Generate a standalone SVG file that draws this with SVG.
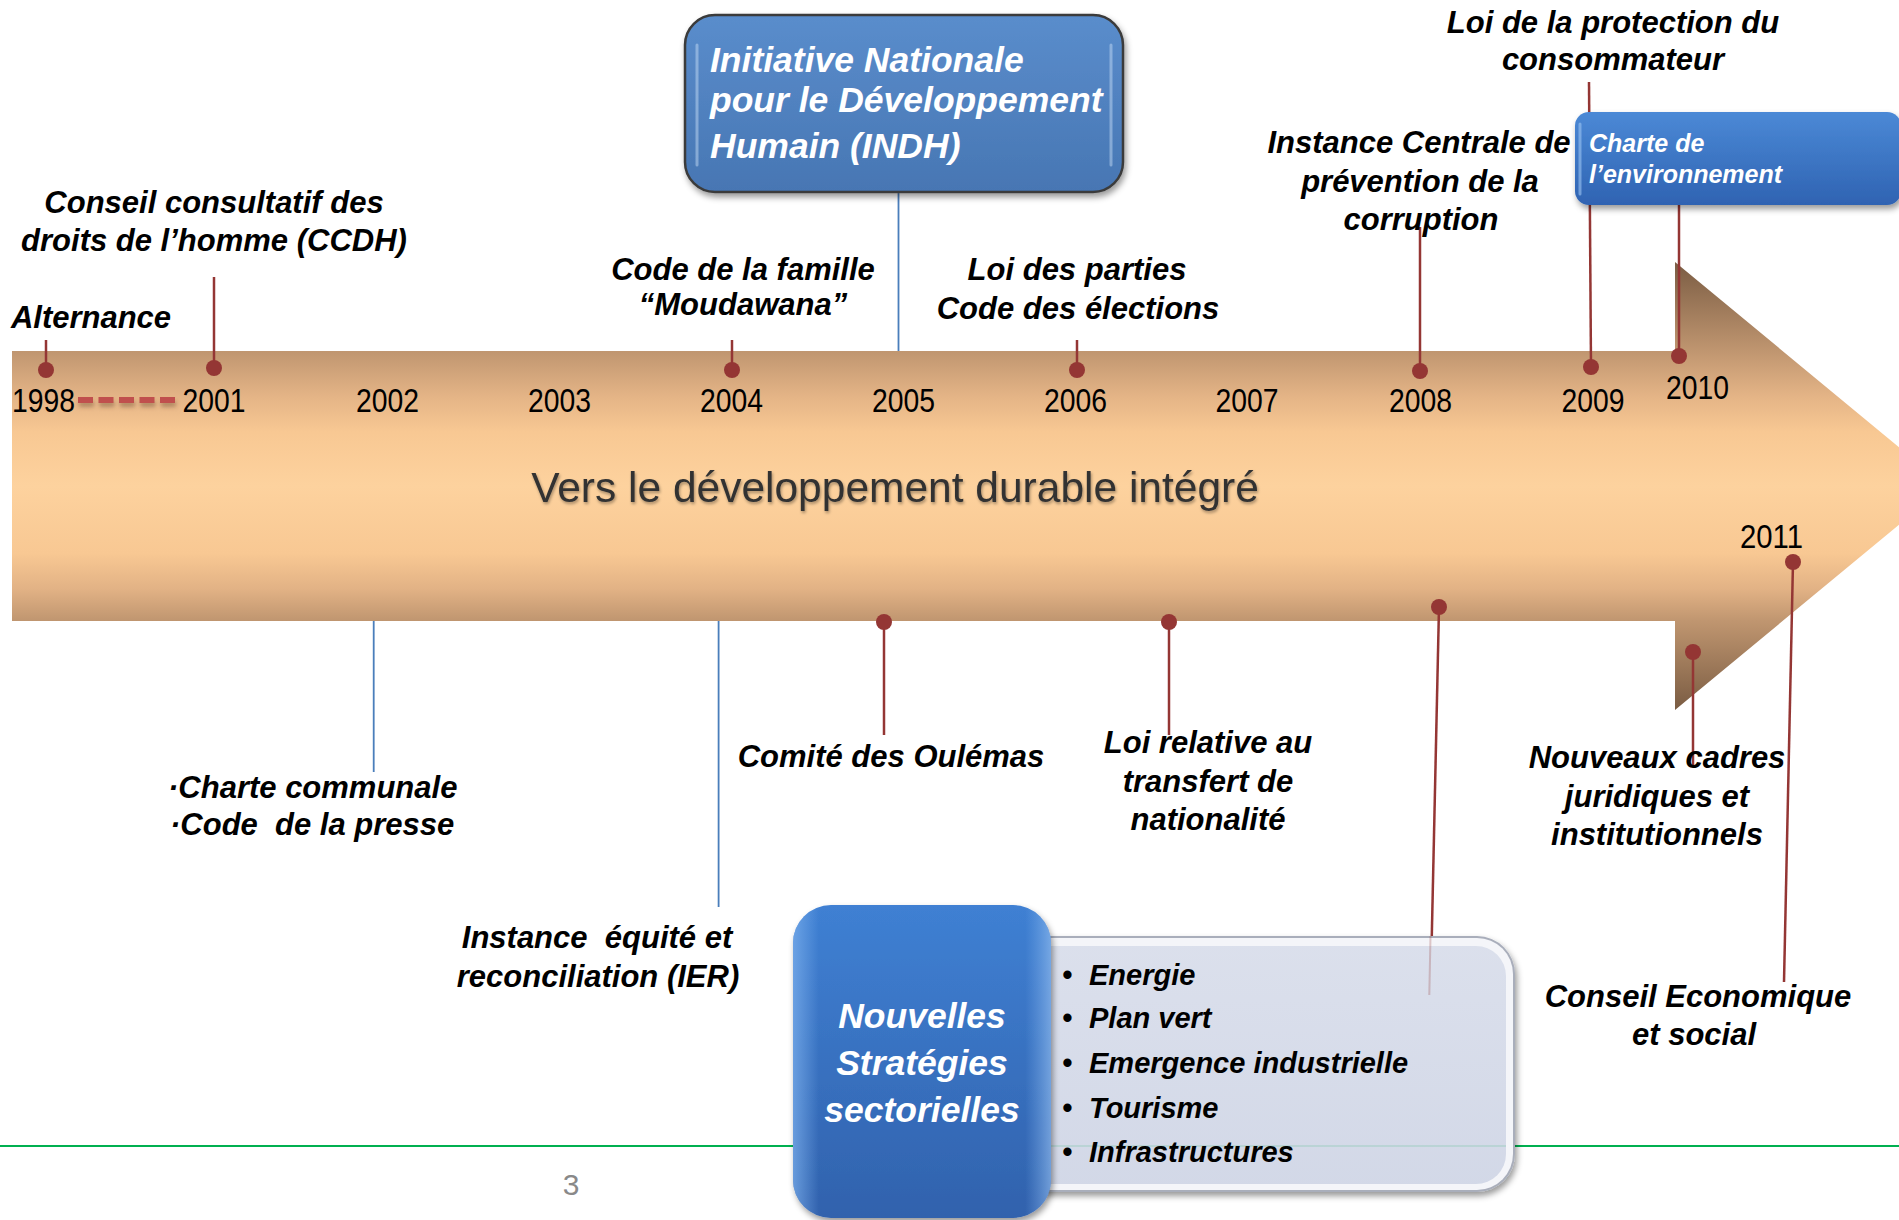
<svg xmlns="http://www.w3.org/2000/svg" width="1899" height="1220" viewBox="0 0 1899 1220">
<defs>
<style>
.lbl{font-family:"Liberation Sans",Arial,sans-serif;font-style:italic;font-weight:bold;font-size:31px;fill:#000;text-anchor:middle}
.st{text-anchor:start}
.yr{font-family:"Liberation Sans",Arial,sans-serif;font-size:33px;fill:#000;text-anchor:middle}
.wt{font-family:"Liberation Sans",Arial,sans-serif;font-style:italic;font-weight:bold;fill:#fff}
.bl{font-family:"Liberation Sans",Arial,sans-serif;font-style:italic;font-weight:bold;font-size:29px;fill:#000}
.pin{stroke:#943634;stroke-width:2.5;fill:none}
.dot{fill:#943634}
.bline{stroke:#4a7ebb;stroke-width:1.8;fill:none}
</style>
<linearGradient id="arrowGrad" gradientUnits="userSpaceOnUse" x1="0" y1="262" x2="0" y2="710">
<stop offset="0" stop-color="#7a5c43"/>
<stop offset="0.2" stop-color="#c09670"/>
<stop offset="0.3" stop-color="#e4b486"/>
<stop offset="0.38" stop-color="#f8c893"/>
<stop offset="0.5" stop-color="#fdd29e"/>
<stop offset="0.65" stop-color="#f8c893"/>
<stop offset="0.73" stop-color="#e2b285"/>
<stop offset="0.8" stop-color="#c09670"/>
<stop offset="1" stop-color="#7a5c43"/>
</linearGradient>
<linearGradient id="indhGrad" x1="0" y1="0" x2="0" y2="1">
<stop offset="0" stop-color="#5a8dcc"/>
<stop offset="1" stop-color="#4776b3"/>
</linearGradient>
<linearGradient id="charteGrad" x1="0" y1="0" x2="0" y2="1">
<stop offset="0" stop-color="#4b89d6"/>
<stop offset="1" stop-color="#2f63b2"/>
</linearGradient>
<linearGradient id="nsGrad" x1="0" y1="0" x2="0" y2="1">
<stop offset="0" stop-color="#3f80d3"/>
<stop offset="1" stop-color="#3162ad"/>
</linearGradient>
<linearGradient id="nsEdge" x1="0" y1="0" x2="1" y2="0">
<stop offset="0" stop-color="#7fb2ee" stop-opacity="0.7"/>
<stop offset="0.1" stop-color="#7fb2ee" stop-opacity="0"/>
<stop offset="0.9" stop-color="#7fb2ee" stop-opacity="0"/>
<stop offset="1" stop-color="#9cc4f2" stop-opacity="0.6"/>
</linearGradient>
<linearGradient id="grayGrad" x1="0" y1="0" x2="0" y2="1">
<stop offset="0" stop-color="#d9deeb"/>
<stop offset="1" stop-color="#d0d6e6"/>
</linearGradient>
<filter id="sh" x="-10%" y="-10%" width="130%" height="140%">
<feDropShadow dx="2" dy="4" stdDeviation="3" flood-color="#000" flood-opacity="0.4"/>
</filter>
<filter id="tsh" x="-5%" y="-20%" width="110%" height="150%">
<feDropShadow dx="1" dy="2" stdDeviation="1.5" flood-color="#000" flood-opacity="0.35"/>
</filter>
<filter id="blur" filterUnits="userSpaceOnUse" x="60" y="390" width="140" height="30">
<feGaussianBlur stdDeviation="2"/>
</filter>
</defs>

<rect width="1899" height="1220" fill="#fff"/>

<!-- Timeline arrow -->
<g id="arrow">
<polygon points="12,351 1675,351 1675,262 1946,486 1675,710 1675,621 12,621" fill="url(#arrowGrad)"/>
<text x="895" y="502" text-anchor="middle" font-family="'Liberation Sans',Arial,sans-serif" font-size="42.5" fill="#333" filter="url(#tsh)">Vers le développement durable intégré</text>
</g>

<!-- Green footer line -->
<line x1="0" y1="1146" x2="1899" y2="1146" stroke="#00b050" stroke-width="2"/>
<text x="571" y="1195" text-anchor="middle" font-family="'Liberation Sans',Arial,sans-serif" font-size="30" fill="#898989">3</text>

<!-- Connectors -->
<g id="connectors">
<line class="pin" x1="46" y1="340" x2="46" y2="370"/>
<line class="pin" x1="214" y1="277" x2="214" y2="368"/>
<line class="pin" x1="732" y1="340" x2="732" y2="370"/>
<line class="bline" x1="898.5" y1="192" x2="898.5" y2="351"/>
<line class="pin" x1="1077" y1="340" x2="1077" y2="370"/>
<line class="pin" x1="1420" y1="227" x2="1420" y2="371"/>
<line class="pin" x1="1589" y1="82" x2="1591" y2="367"/>
<line class="pin" x1="1679" y1="205" x2="1679" y2="356"/>
<line class="bline" x1="373.7" y1="621" x2="373.7" y2="772"/>
<line class="bline" x1="718.6" y1="621" x2="718.6" y2="907"/>
<line class="pin" x1="884" y1="622" x2="884" y2="735"/>
<line class="pin" x1="1169" y1="622" x2="1169" y2="735"/>
<line class="pin" x1="1439" y1="607" x2="1430.5" y2="995"/>
<line class="pin" x1="1693" y1="652" x2="1693" y2="765"/>
<line class="pin" x1="1793" y1="562" x2="1784" y2="982"/>
<line x1="79" y1="404" x2="181" y2="404" stroke="#6b4a30" stroke-opacity="0.45" stroke-width="6" stroke-dasharray="15 5.5" filter="url(#blur)"/>
<line x1="78" y1="400" x2="180" y2="400" stroke="#c0504d" stroke-width="6" stroke-dasharray="15 5.5"/>
<circle class="dot" cx="46" cy="370" r="8"/>
<circle class="dot" cx="214" cy="368" r="8"/>
<circle class="dot" cx="732" cy="370" r="8"/>
<circle class="dot" cx="1077" cy="370" r="8"/>
<circle class="dot" cx="1420" cy="371" r="8"/>
<circle class="dot" cx="1591" cy="367" r="8"/>
<circle class="dot" cx="1679" cy="356" r="8"/>
<circle class="dot" cx="884" cy="622" r="8"/>
<circle class="dot" cx="1169" cy="622" r="8"/>
<circle class="dot" cx="1439" cy="607" r="8"/>
<circle class="dot" cx="1693" cy="652" r="8"/>
<circle class="dot" cx="1793" cy="562" r="8"/>
</g>

<!-- Years -->
<g id="years">
<text class="yr" x="43.5" y="412" textLength="63" lengthAdjust="spacingAndGlyphs">1998</text>
<text class="yr" x="214" y="412" textLength="63" lengthAdjust="spacingAndGlyphs">2001</text>
<text class="yr" x="387.6" y="412" textLength="63" lengthAdjust="spacingAndGlyphs">2002</text>
<text class="yr" x="559.5" y="412" textLength="63" lengthAdjust="spacingAndGlyphs">2003</text>
<text class="yr" x="731.5" y="412" textLength="63" lengthAdjust="spacingAndGlyphs">2004</text>
<text class="yr" x="903.5" y="412" textLength="63" lengthAdjust="spacingAndGlyphs">2005</text>
<text class="yr" x="1075.5" y="412" textLength="63" lengthAdjust="spacingAndGlyphs">2006</text>
<text class="yr" x="1247" y="412" textLength="63" lengthAdjust="spacingAndGlyphs">2007</text>
<text class="yr" x="1420.6" y="412" textLength="63" lengthAdjust="spacingAndGlyphs">2008</text>
<text class="yr" x="1593" y="412" textLength="63" lengthAdjust="spacingAndGlyphs">2009</text>
<text class="yr" x="1697.5" y="399" textLength="63" lengthAdjust="spacingAndGlyphs">2010</text>
<text class="yr" x="1771.5" y="548" textLength="63" lengthAdjust="spacingAndGlyphs">2011</text>
</g>

<!-- Top labels -->
<g id="alternance"><text class="lbl" x="91" y="328">Alternance</text></g>
<g id="ccdh"><text class="lbl" x="214" y="213">Conseil consultatif des</text><text class="lbl" x="214" y="251">droits de l’homme (CCDH)</text></g>
<g id="moudawana"><text class="lbl" x="743" y="280">Code de la famille</text><text class="lbl" x="743" y="315">“Moudawana”</text></g>
<g id="elections"><text class="lbl" x="1077" y="280">Loi des parties</text><text class="lbl" x="1078" y="319">Code des élections</text></g>
<g id="corruption"><text class="lbl" x="1419" y="153">Instance Centrale de</text><text class="lbl" x="1420" y="191.5">prévention de la</text><text class="lbl" x="1421" y="230">corruption</text></g>
<g id="consommateur"><text class="lbl" x="1613" y="33">Loi de la protection du</text><text class="lbl" x="1613" y="70">consommateur</text></g>

<g id="indh">
<rect x="685" y="15" width="438" height="177" rx="30" fill="url(#indhGrad)" stroke="#3b3b3b" stroke-width="2.5" filter="url(#sh)"/>
<line x1="697" y1="45" x2="697" y2="165" stroke="#cfe2f8" stroke-width="3" stroke-opacity="0.45" stroke-linecap="round"/>
<line x1="1111" y1="45" x2="1111" y2="165" stroke="#cfe2f8" stroke-width="3" stroke-opacity="0.45" stroke-linecap="round"/>
<text class="wt" font-size="35.5" x="710" y="72">Initiative Nationale</text>
<text class="wt" font-size="35.5" x="710" y="112">pour le Développement</text>
<text class="wt" font-size="35.5" x="710" y="158">Humain (INDH)</text>
</g>

<g id="charte-env">
<rect x="1575" y="112" width="326" height="93" rx="14" fill="url(#charteGrad)" filter="url(#sh)"/>
<line x1="1580" y1="124" x2="1580" y2="194" stroke="#9cc4f2" stroke-width="3" stroke-opacity="0.6" stroke-linecap="round"/>
<text class="wt" font-size="25" x="1589" y="152">Charte de</text>
<text class="wt" font-size="25" x="1589" y="183">l’environnement</text>
</g>

<!-- Bottom labels -->
<g id="charte-communale"><text class="lbl st" x="168" y="798">·Charte communale</text><text class="lbl st" x="170" y="835" xml:space="preserve">·Code  de la presse</text></g>
<g id="ier"><text class="lbl" x="597" y="948" xml:space="preserve">Instance  équité et</text><text class="lbl" x="598" y="987">reconciliation (IER)</text></g>
<g id="oulemas"><text class="lbl" x="891" y="767">Comité des Oulémas</text></g>
<g id="nationalite"><text class="lbl" x="1208" y="753">Loi relative au</text><text class="lbl" x="1208" y="792">transfert de</text><text class="lbl" x="1208" y="830">nationalité</text></g>
<g id="cadres"><text class="lbl" x="1657" y="768">Nouveaux cadres</text><text class="lbl" x="1657" y="807">juridiques et</text><text class="lbl" x="1657" y="845">institutionnels</text></g>
<g id="ces"><text class="lbl" x="1698" y="1007">Conseil Economique</text><text class="lbl" x="1694" y="1045">et social</text></g>

<g id="strategies">
<rect x="1010" y="936" width="505" height="256" rx="38" fill="#a9aebb" filter="url(#sh)"/>
<rect x="1012" y="938" width="501" height="252" rx="36" fill="#f4f5f9"/>
<rect x="1019" y="946" width="487" height="238" rx="30" fill="url(#grayGrad)" fill-opacity="0.93"/>
<line x1="1430.5" y1="936" x2="1429.3" y2="995" stroke="#943634" stroke-width="2" stroke-opacity="0.25"/>
<line x1="1019" y1="1146" x2="1506" y2="1146" stroke="#00b050" stroke-width="2" stroke-opacity="0.12"/>
<text class="bl" x="1062" y="985" font-size="32">•</text>
<text class="bl" x="1062" y="1028" font-size="32">•</text>
<text class="bl" x="1062" y="1073" font-size="32">•</text>
<text class="bl" x="1062" y="1118" font-size="32">•</text>
<text class="bl" x="1062" y="1162" font-size="32">•</text>
<text class="bl" x="1089" y="985">Energie</text>
<text class="bl" x="1089" y="1028">Plan vert</text>
<text class="bl" x="1089" y="1073">Emergence industrielle</text>
<text class="bl" x="1089" y="1118">Tourisme</text>
<text class="bl" x="1089" y="1162">Infrastructures</text>
</g>

<g id="nouvelles">
<rect x="793" y="905" width="258" height="313" rx="38" fill="url(#nsGrad)" filter="url(#sh)"/>
<rect x="793" y="905" width="258" height="313" rx="38" fill="url(#nsEdge)"/>
<text class="wt" font-size="35.5" x="922" y="1028" text-anchor="middle">Nouvelles</text>
<text class="wt" font-size="35.5" x="922" y="1075" text-anchor="middle">Stratégies</text>
<text class="wt" font-size="35.5" x="922" y="1122" text-anchor="middle">sectorielles</text>
</g>
</svg>
